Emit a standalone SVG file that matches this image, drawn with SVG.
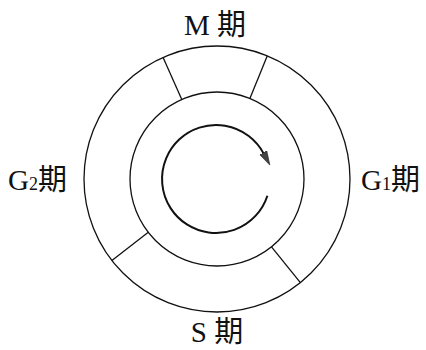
<svg xmlns="http://www.w3.org/2000/svg" width="426" height="350" viewBox="0 0 426 350">
<style>
.ring{fill:none;stroke:#111;stroke-width:1.3}
.div{stroke:#111;stroke-width:1.3}
.lbl{font-family:"Liberation Serif","Noto Sans CJK SC",serif;font-size:29px;fill:#111}
.sub{font-size:18px}
.cyc{fill:none;stroke:#111;stroke-width:2}
</style>
<defs>
<marker id="ah" markerUnits="userSpaceOnUse" markerWidth="16" markerHeight="12" refX="1" refY="5" orient="auto">
<path d="M0,1 L14,5 L0,9 Z" fill="#444" stroke="#222" stroke-width="0.6"/>
</marker>
</defs>
<rect width="426" height="350" fill="#fff"/>
<g id="outer-ring"><circle class="ring" cx="217" cy="179" r="133"/></g>
<g id="inner-ring"><circle class="ring" cx="217" cy="179" r="87"/></g>
<g id="dividers">
<line class="div" x1="163.1" y1="57.4" x2="181.8" y2="99.5"/>
<line class="div" x1="267.3" y1="55.8" x2="249.9" y2="98.4"/>
<line class="div" x1="111.9" y1="260.5" x2="148.3" y2="232.3"/>
<line class="div" x1="300.4" y1="282.6" x2="271.5" y2="246.8"/>
</g>
<g id="cycle-arrow">
<path class="cyc" d="M 267.4 195.7 A 54 54 0 1 1 263.7 153.6" marker-end="url(#ah)"/>
</g>
<g id="label-M"><text class="lbl" x="215" y="35" text-anchor="middle">M 期</text></g>
<g id="label-S"><text class="lbl" x="217" y="342" text-anchor="middle">S 期</text></g>
<g id="label-G2"><text class="lbl" x="8" y="190">G<tspan class="sub">2</tspan>期</text></g>
<g id="label-G1"><text class="lbl" x="361" y="190">G<tspan class="sub">1</tspan>期</text></g>
</svg>
